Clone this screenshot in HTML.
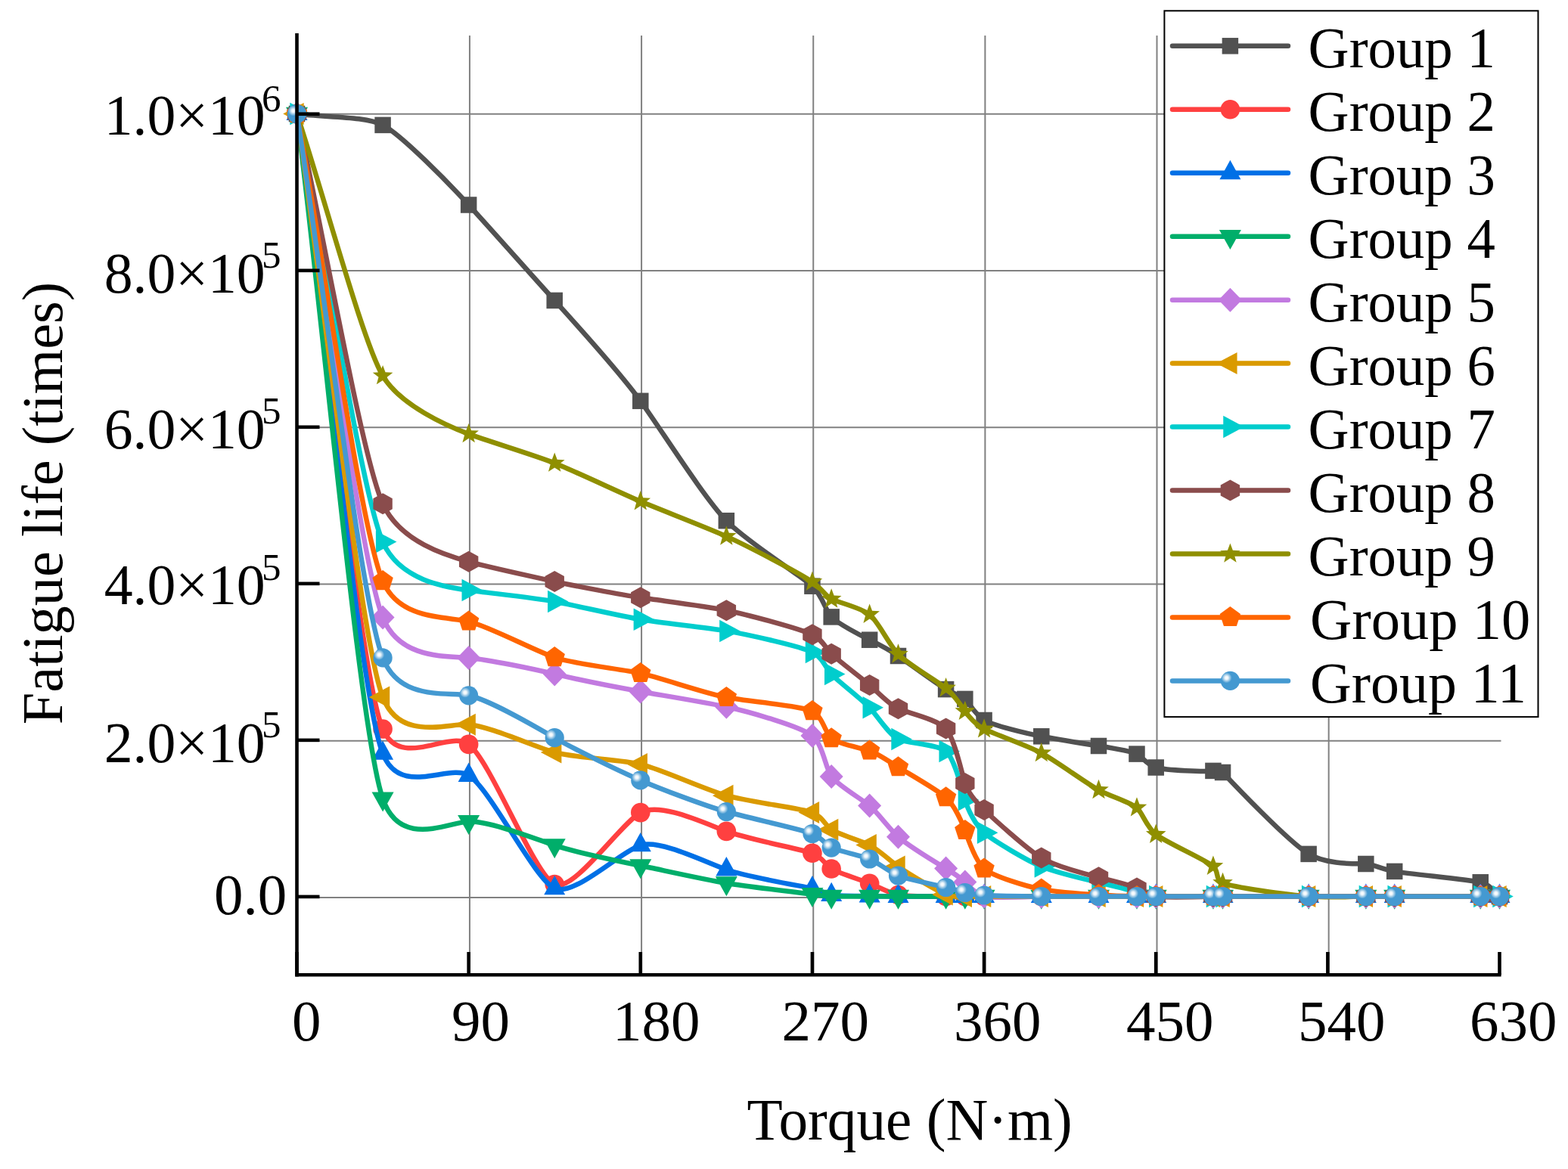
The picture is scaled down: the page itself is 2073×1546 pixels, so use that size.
<!DOCTYPE html>
<html><head><meta charset="utf-8"><title>Fatigue life vs Torque</title><style>html,body{margin:0;padding:0;background:#fff;overflow:hidden}svg{display:block}</style></head><body>
<svg xmlns="http://www.w3.org/2000/svg" width="2073" height="1546" viewBox="0 0 2073 1546">
<defs><radialGradient id="hl"><stop offset="0" stop-color="#fff" stop-opacity="1"/><stop offset="0.3" stop-color="#fff" stop-opacity="0.9"/><stop offset="1" stop-color="#fff" stop-opacity="0"/></radialGradient></defs>
<rect width="2073" height="1546" fill="#fff"/>
<g stroke="#808080" stroke-width="2"><line x1="392.5" y1="1187" x2="1984.5" y2="1187"/><line x1="392.5" y1="979.74" x2="1984.5" y2="979.74"/><line x1="392.5" y1="772.48" x2="1984.5" y2="772.48"/><line x1="392.5" y1="565.22" x2="1984.5" y2="565.22"/><line x1="392.5" y1="357.96" x2="1984.5" y2="357.96"/><line x1="392.5" y1="150.7" x2="1984.5" y2="150.7"/><line x1="620.94" y1="47" x2="620.94" y2="1289"/><line x1="848.09" y1="47" x2="848.09" y2="1289"/><line x1="1075.23" y1="47" x2="1075.23" y2="1289"/><line x1="1302.37" y1="47" x2="1302.37" y2="1289"/><line x1="1529.51" y1="47" x2="1529.51" y2="1289"/><line x1="1756.66" y1="47" x2="1756.66" y2="1289"/></g>
<path d="M392.5,150.5 C430.36,155.47 482.63,153.29 506.07,165.4 C530.51,178.02 592.79,241.73 619.64,271 C646.85,300.66 706.7,368.24 733.21,397.4 C759.83,426.68 821.25,495.17 846.79,530.3 C872.71,565.99 930.82,658.53 960.36,688.7 C988.57,717.54 1058.66,760.93 1073.93,775.2 C1087.11,787.5 1091.52,807.68 1099.17,815.9 C1107.03,824.37 1138.86,840.89 1149.64,846.2 C1159.96,851.3 1176.23,859.76 1187.5,867.5 C1199.73,875.91 1239.2,904.94 1250.6,911.6 C1260.46,917.4 1271.49,920.23 1275.83,924.4 C1280.33,928.74 1290.29,946.25 1301.07,952.5 C1313.03,959.47 1357.81,970.15 1376.79,973.8 C1395.69,977.43 1436.76,984.08 1452.5,986.5 C1467.36,988.79 1495.72,993.4 1502.98,997.1 C1509.77,1000.54 1516.6,1011.69 1528.21,1015 C1541.45,1018.82 1594.52,1021.24 1603.93,1019.4 C1611.4,1018.18 1607.7,1012.32 1616.55,1021.5 C1628.42,1034.27 1702.8,1112.88 1730.12,1129.4 C1754.65,1144.26 1795.28,1141.9 1805.83,1142.5 C1815.53,1143.12 1826.88,1149.37 1843.69,1152.4 C1863.31,1155.97 1941.13,1163.02 1957.26,1166.8 C1970.77,1169.97 1974.09,1179.27 1982.5,1185.5" fill="none" stroke="#515151" stroke-width="6.5" stroke-linejoin="round"/>
<g><rect x="381.75" y="139.75" width="21.5" height="21.5" fill="#515151"/><rect x="495.32" y="154.65" width="21.5" height="21.5" fill="#515151"/><rect x="608.89" y="260.25" width="21.5" height="21.5" fill="#515151"/><rect x="722.46" y="386.65" width="21.5" height="21.5" fill="#515151"/><rect x="836.04" y="519.55" width="21.5" height="21.5" fill="#515151"/><rect x="949.61" y="677.95" width="21.5" height="21.5" fill="#515151"/><rect x="1063.18" y="764.45" width="21.5" height="21.5" fill="#515151"/><rect x="1088.42" y="805.15" width="21.5" height="21.5" fill="#515151"/><rect x="1138.89" y="835.45" width="21.5" height="21.5" fill="#515151"/><rect x="1176.75" y="856.75" width="21.5" height="21.5" fill="#515151"/><rect x="1239.85" y="900.85" width="21.5" height="21.5" fill="#515151"/><rect x="1265.08" y="913.65" width="21.5" height="21.5" fill="#515151"/><rect x="1290.32" y="941.75" width="21.5" height="21.5" fill="#515151"/><rect x="1366.04" y="963.05" width="21.5" height="21.5" fill="#515151"/><rect x="1441.75" y="975.75" width="21.5" height="21.5" fill="#515151"/><rect x="1492.23" y="986.35" width="21.5" height="21.5" fill="#515151"/><rect x="1517.46" y="1004.25" width="21.5" height="21.5" fill="#515151"/><rect x="1593.18" y="1008.65" width="21.5" height="21.5" fill="#515151"/><rect x="1605.8" y="1010.75" width="21.5" height="21.5" fill="#515151"/><rect x="1719.37" y="1118.65" width="21.5" height="21.5" fill="#515151"/><rect x="1795.08" y="1131.75" width="21.5" height="21.5" fill="#515151"/><rect x="1832.94" y="1141.65" width="21.5" height="21.5" fill="#515151"/><rect x="1946.51" y="1156.05" width="21.5" height="21.5" fill="#515151"/><rect x="1971.75" y="1174.75" width="21.5" height="21.5" fill="#515151"/></g>
<path d="M392.5,150.5 C430.36,421.67 476.01,896.36 506.07,964 C528.83,1018.7 593.23,964.75 619.64,984.4 C648.59,1005.78 706.57,1157.49 733.21,1169.5 C758.45,1180.84 820.1,1089.57 846.79,1074.6 C872.57,1060.22 931.61,1088.84 960.36,1099.4 C989.14,1109.98 1058.74,1122.86 1073.93,1128.3 C1086.74,1132.89 1091.72,1144.33 1099.17,1149 C1107.13,1154.02 1138.95,1163.94 1149.64,1168.2 C1159.92,1172.29 1176.03,1181.44 1187.5,1183.5 C1199.71,1185.69 1239.28,1185.58 1250.6,1185.5 C1260.51,1185.44 1271.33,1185.47 1275.83,1185.5 C1280.33,1185.53 1290.7,1185.51 1301.07,1185.5 C1313.16,1185.49 1357.87,1185.5 1376.79,1185.5 C1395.7,1185.5 1436.78,1185.5 1452.5,1185.5 C1467.32,1185.5 1495.63,1185.5 1502.98,1185.5 C1509.7,1185.5 1516.86,1185.5 1528.21,1185.5 C1541.53,1185.5 1594.77,1185.5 1603.93,1185.5 C1611.22,1185.5 1607.16,1185.5 1616.55,1185.5 C1628.79,1185.5 1703.3,1185.5 1730.12,1185.5 C1755.34,1185.5 1795.44,1185.5 1805.83,1185.5 C1815.37,1185.5 1826.88,1185.5 1843.69,1185.5 C1863.39,1185.5 1941.23,1185.5 1957.26,1185.5 C1970.33,1185.5 1974.09,1185.5 1982.5,1185.5" fill="none" stroke="#FF4040" stroke-width="6.5" stroke-linejoin="round"/>
<g><circle cx="392.5" cy="150.5" r="12.8" fill="#FF4040"/><circle cx="506.07" cy="964" r="12.8" fill="#FF4040"/><circle cx="619.64" cy="984.4" r="12.8" fill="#FF4040"/><circle cx="733.21" cy="1169.5" r="12.8" fill="#FF4040"/><circle cx="846.79" cy="1074.6" r="12.8" fill="#FF4040"/><circle cx="960.36" cy="1099.4" r="12.8" fill="#FF4040"/><circle cx="1073.93" cy="1128.3" r="12.8" fill="#FF4040"/><circle cx="1099.17" cy="1149" r="12.8" fill="#FF4040"/><circle cx="1149.64" cy="1168.2" r="12.8" fill="#FF4040"/><circle cx="1187.5" cy="1183.5" r="12.8" fill="#FF4040"/><circle cx="1250.6" cy="1185.5" r="12.8" fill="#FF4040"/><circle cx="1275.83" cy="1185.5" r="12.8" fill="#FF4040"/><circle cx="1301.07" cy="1185.5" r="12.8" fill="#FF4040"/><circle cx="1376.79" cy="1185.5" r="12.8" fill="#FF4040"/><circle cx="1452.5" cy="1185.5" r="12.8" fill="#FF4040"/><circle cx="1502.98" cy="1185.5" r="12.8" fill="#FF4040"/><circle cx="1528.21" cy="1185.5" r="12.8" fill="#FF4040"/><circle cx="1603.93" cy="1185.5" r="12.8" fill="#FF4040"/><circle cx="1616.55" cy="1185.5" r="12.8" fill="#FF4040"/><circle cx="1730.12" cy="1185.5" r="12.8" fill="#FF4040"/><circle cx="1805.83" cy="1185.5" r="12.8" fill="#FF4040"/><circle cx="1843.69" cy="1185.5" r="12.8" fill="#FF4040"/><circle cx="1957.26" cy="1185.5" r="12.8" fill="#FF4040"/><circle cx="1982.5" cy="1185.5" r="12.8" fill="#FF4040"/></g>
<path d="M392.5,150.5 C430.36,432.47 476,922.78 506.07,996.4 C528.77,1055.46 593.04,1009.38 619.64,1025.5 C648.13,1042.62 706.35,1162.53 733.21,1174.9 C758.63,1186.58 820.44,1125.97 846.79,1117.9 C872.85,1109.94 931.63,1139.74 960.36,1150 C989.02,1160.23 1058.7,1171.56 1073.93,1174.9 C1086.46,1177.67 1091.79,1182.4 1099.17,1183.6 C1107.21,1184.92 1138.94,1184.96 1149.64,1185 C1159.91,1185.04 1176.12,1185.41 1187.5,1185.5 C1199.74,1185.6 1239.29,1185.52 1250.6,1185.5 C1260.5,1185.48 1271.33,1185.5 1275.83,1185.5 C1280.33,1185.5 1290.7,1185.5 1301.07,1185.5 C1313.16,1185.5 1357.87,1185.5 1376.79,1185.5 C1395.7,1185.5 1436.78,1185.5 1452.5,1185.5 C1467.32,1185.5 1495.63,1185.5 1502.98,1185.5 C1509.7,1185.5 1516.86,1185.5 1528.21,1185.5 C1541.53,1185.5 1594.77,1185.5 1603.93,1185.5 C1611.22,1185.5 1607.16,1185.5 1616.55,1185.5 C1628.79,1185.5 1703.3,1185.5 1730.12,1185.5 C1755.34,1185.5 1795.44,1185.5 1805.83,1185.5 C1815.37,1185.5 1826.88,1185.5 1843.69,1185.5 C1863.39,1185.5 1941.23,1185.5 1957.26,1185.5 C1970.33,1185.5 1974.09,1185.5 1982.5,1185.5" fill="none" stroke="#0070E6" stroke-width="6.5" stroke-linejoin="round"/>
<g><polygon points="392.5,133.57 406.5,158.97 378.5,158.97" fill="#0070E6"/><polygon points="506.07,979.47 520.07,1004.87 492.07,1004.87" fill="#0070E6"/><polygon points="619.64,1008.57 633.64,1033.97 605.64,1033.97" fill="#0070E6"/><polygon points="733.21,1157.97 747.21,1183.37 719.21,1183.37" fill="#0070E6"/><polygon points="846.79,1100.97 860.79,1126.37 832.79,1126.37" fill="#0070E6"/><polygon points="960.36,1133.07 974.36,1158.47 946.36,1158.47" fill="#0070E6"/><polygon points="1073.93,1157.97 1087.93,1183.37 1059.93,1183.37" fill="#0070E6"/><polygon points="1099.17,1166.67 1113.17,1192.07 1085.17,1192.07" fill="#0070E6"/><polygon points="1149.64,1168.07 1163.64,1193.47 1135.64,1193.47" fill="#0070E6"/><polygon points="1187.5,1168.57 1201.5,1193.97 1173.5,1193.97" fill="#0070E6"/><polygon points="1250.6,1168.57 1264.6,1193.97 1236.6,1193.97" fill="#0070E6"/><polygon points="1275.83,1168.57 1289.83,1193.97 1261.83,1193.97" fill="#0070E6"/><polygon points="1301.07,1168.57 1315.07,1193.97 1287.07,1193.97" fill="#0070E6"/><polygon points="1376.79,1168.57 1390.79,1193.97 1362.79,1193.97" fill="#0070E6"/><polygon points="1452.5,1168.57 1466.5,1193.97 1438.5,1193.97" fill="#0070E6"/><polygon points="1502.98,1168.57 1516.98,1193.97 1488.98,1193.97" fill="#0070E6"/><polygon points="1528.21,1168.57 1542.21,1193.97 1514.21,1193.97" fill="#0070E6"/><polygon points="1603.93,1168.57 1617.93,1193.97 1589.93,1193.97" fill="#0070E6"/><polygon points="1616.55,1168.57 1630.55,1193.97 1602.55,1193.97" fill="#0070E6"/><polygon points="1730.12,1168.57 1744.12,1193.97 1716.12,1193.97" fill="#0070E6"/><polygon points="1805.83,1168.57 1819.83,1193.97 1791.83,1193.97" fill="#0070E6"/><polygon points="1843.69,1168.57 1857.69,1193.97 1829.69,1193.97" fill="#0070E6"/><polygon points="1957.26,1168.57 1971.26,1193.97 1943.26,1193.97" fill="#0070E6"/><polygon points="1982.5,1168.57 1996.5,1193.97 1968.5,1193.97" fill="#0070E6"/></g>
<path d="M392.5,150.5 C430.36,452.4 476.17,971.63 506.07,1056.2 C528.46,1122.83 592.09,1087.46 619.64,1086.6 C647.2,1085.73 706.83,1108.86 733.21,1117.9 C759.56,1126.93 820.8,1139.51 846.79,1144.8 C872.75,1150.08 931.61,1163.25 960.36,1168 C989.05,1172.75 1058.69,1180.69 1073.93,1182.6 C1086.41,1184.16 1091.82,1185.27 1099.17,1185.5 C1107.22,1185.75 1138.94,1185.54 1149.64,1185.5 C1159.91,1185.46 1176.12,1185.49 1187.5,1185.5 C1199.74,1185.51 1239.29,1185.5 1250.6,1185.5 C1260.5,1185.5 1271.33,1185.5 1275.83,1185.5 C1280.33,1185.5 1290.7,1185.5 1301.07,1185.5 C1313.16,1185.5 1357.87,1185.5 1376.79,1185.5 C1395.7,1185.5 1436.78,1185.5 1452.5,1185.5 C1467.32,1185.5 1495.63,1185.5 1502.98,1185.5 C1509.7,1185.5 1516.86,1185.5 1528.21,1185.5 C1541.53,1185.5 1594.77,1185.5 1603.93,1185.5 C1611.22,1185.5 1607.16,1185.5 1616.55,1185.5 C1628.79,1185.5 1703.3,1185.5 1730.12,1185.5 C1755.34,1185.5 1795.44,1185.5 1805.83,1185.5 C1815.37,1185.5 1826.88,1185.5 1843.69,1185.5 C1863.39,1185.5 1941.23,1185.5 1957.26,1185.5 C1970.33,1185.5 1974.09,1185.5 1982.5,1185.5" fill="none" stroke="#00AE6A" stroke-width="6.5" stroke-linejoin="round"/>
<g><polygon points="392.5,167.83 407,141.83 378,141.83" fill="#00AE6A"/><polygon points="506.07,1073.53 520.57,1047.53 491.57,1047.53" fill="#00AE6A"/><polygon points="619.64,1103.93 634.14,1077.93 605.14,1077.93" fill="#00AE6A"/><polygon points="733.21,1135.23 747.71,1109.23 718.71,1109.23" fill="#00AE6A"/><polygon points="846.79,1162.13 861.29,1136.13 832.29,1136.13" fill="#00AE6A"/><polygon points="960.36,1185.33 974.86,1159.33 945.86,1159.33" fill="#00AE6A"/><polygon points="1073.93,1199.93 1088.43,1173.93 1059.43,1173.93" fill="#00AE6A"/><polygon points="1099.17,1202.83 1113.67,1176.83 1084.67,1176.83" fill="#00AE6A"/><polygon points="1149.64,1202.83 1164.14,1176.83 1135.14,1176.83" fill="#00AE6A"/><polygon points="1187.5,1202.83 1202,1176.83 1173,1176.83" fill="#00AE6A"/><polygon points="1250.6,1202.83 1265.1,1176.83 1236.1,1176.83" fill="#00AE6A"/><polygon points="1275.83,1202.83 1290.33,1176.83 1261.33,1176.83" fill="#00AE6A"/><polygon points="1301.07,1202.83 1315.57,1176.83 1286.57,1176.83" fill="#00AE6A"/><polygon points="1376.79,1202.83 1391.29,1176.83 1362.29,1176.83" fill="#00AE6A"/><polygon points="1452.5,1202.83 1467,1176.83 1438,1176.83" fill="#00AE6A"/><polygon points="1502.98,1202.83 1517.48,1176.83 1488.48,1176.83" fill="#00AE6A"/><polygon points="1528.21,1202.83 1542.71,1176.83 1513.71,1176.83" fill="#00AE6A"/><polygon points="1603.93,1202.83 1618.43,1176.83 1589.43,1176.83" fill="#00AE6A"/><polygon points="1616.55,1202.83 1631.05,1176.83 1602.05,1176.83" fill="#00AE6A"/><polygon points="1730.12,1202.83 1744.62,1176.83 1715.62,1176.83" fill="#00AE6A"/><polygon points="1805.83,1202.83 1820.33,1176.83 1791.33,1176.83" fill="#00AE6A"/><polygon points="1843.69,1202.83 1858.19,1176.83 1829.19,1176.83" fill="#00AE6A"/><polygon points="1957.26,1202.83 1971.76,1176.83 1942.76,1176.83" fill="#00AE6A"/><polygon points="1982.5,1202.83 1997,1176.83 1968,1176.83" fill="#00AE6A"/></g>
<path d="M392.5,150.5 C430.36,372.5 477.6,746.97 506.07,816.5 C528.57,873.01 591.97,867.31 619.64,869.9 C646.99,872.49 706.81,885.16 733.21,891.4 C759.63,897.64 820.79,909.86 846.79,914.5 C872.77,919.14 931.73,928.67 960.36,934.8 C989.14,940.97 1058.73,960.73 1073.93,973.1 C1087.74,984.26 1091.49,1015.86 1099.17,1026.9 C1106.92,1038.05 1138.98,1056.74 1149.64,1065.6 C1160.11,1074.3 1175.92,1096.53 1187.5,1106.7 C1199.59,1117.33 1239.23,1141.73 1250.6,1148.6 C1260.58,1154.67 1271.43,1162.15 1275.83,1166.5 C1280.25,1170.87 1290.43,1183.02 1301.07,1185.5 C1313.11,1188.33 1357.85,1186.09 1376.79,1185.5 C1395.72,1184.91 1436.78,1185.35 1452.5,1185.5 C1467.32,1185.64 1495.63,1185.54 1502.98,1185.5 C1509.7,1185.47 1516.86,1185.49 1528.21,1185.5 C1541.53,1185.51 1594.77,1185.5 1603.93,1185.5 C1611.22,1185.5 1607.16,1185.5 1616.55,1185.5 C1628.79,1185.5 1703.3,1185.5 1730.12,1185.5 C1755.34,1185.5 1795.44,1185.5 1805.83,1185.5 C1815.37,1185.5 1826.88,1185.5 1843.69,1185.5 C1863.39,1185.5 1941.23,1185.5 1957.26,1185.5 C1970.33,1185.5 1974.09,1185.5 1982.5,1185.5" fill="none" stroke="#C27AE0" stroke-width="6.5" stroke-linejoin="round"/>
<g><polygon points="392.5,134.5 408,150.5 392.5,166.5 377,150.5" fill="#C27AE0"/><polygon points="506.07,800.5 521.57,816.5 506.07,832.5 490.57,816.5" fill="#C27AE0"/><polygon points="619.64,853.9 635.14,869.9 619.64,885.9 604.14,869.9" fill="#C27AE0"/><polygon points="733.21,875.4 748.71,891.4 733.21,907.4 717.71,891.4" fill="#C27AE0"/><polygon points="846.79,898.5 862.29,914.5 846.79,930.5 831.29,914.5" fill="#C27AE0"/><polygon points="960.36,918.8 975.86,934.8 960.36,950.8 944.86,934.8" fill="#C27AE0"/><polygon points="1073.93,957.1 1089.43,973.1 1073.93,989.1 1058.43,973.1" fill="#C27AE0"/><polygon points="1099.17,1010.9 1114.67,1026.9 1099.17,1042.9 1083.67,1026.9" fill="#C27AE0"/><polygon points="1149.64,1049.6 1165.14,1065.6 1149.64,1081.6 1134.14,1065.6" fill="#C27AE0"/><polygon points="1187.5,1090.7 1203,1106.7 1187.5,1122.7 1172,1106.7" fill="#C27AE0"/><polygon points="1250.6,1132.6 1266.1,1148.6 1250.6,1164.6 1235.1,1148.6" fill="#C27AE0"/><polygon points="1275.83,1150.5 1291.33,1166.5 1275.83,1182.5 1260.33,1166.5" fill="#C27AE0"/><polygon points="1301.07,1169.5 1316.57,1185.5 1301.07,1201.5 1285.57,1185.5" fill="#C27AE0"/><polygon points="1376.79,1169.5 1392.29,1185.5 1376.79,1201.5 1361.29,1185.5" fill="#C27AE0"/><polygon points="1452.5,1169.5 1468,1185.5 1452.5,1201.5 1437,1185.5" fill="#C27AE0"/><polygon points="1502.98,1169.5 1518.48,1185.5 1502.98,1201.5 1487.48,1185.5" fill="#C27AE0"/><polygon points="1528.21,1169.5 1543.71,1185.5 1528.21,1201.5 1512.71,1185.5" fill="#C27AE0"/><polygon points="1603.93,1169.5 1619.43,1185.5 1603.93,1201.5 1588.43,1185.5" fill="#C27AE0"/><polygon points="1616.55,1169.5 1632.05,1185.5 1616.55,1201.5 1601.05,1185.5" fill="#C27AE0"/><polygon points="1730.12,1169.5 1745.62,1185.5 1730.12,1201.5 1714.62,1185.5" fill="#C27AE0"/><polygon points="1805.83,1169.5 1821.33,1185.5 1805.83,1201.5 1790.33,1185.5" fill="#C27AE0"/><polygon points="1843.69,1169.5 1859.19,1185.5 1843.69,1201.5 1828.19,1185.5" fill="#C27AE0"/><polygon points="1957.26,1169.5 1972.76,1185.5 1957.26,1201.5 1941.76,1185.5" fill="#C27AE0"/><polygon points="1982.5,1169.5 1998,1185.5 1982.5,1201.5 1967,1185.5" fill="#C27AE0"/></g>
<path d="M392.5,150.5 C430.36,407.67 476.82,847.83 506.07,922 C528.53,981.37 592.13,956.15 619.64,958.2 C647.16,960.25 706.73,987.67 733.21,995 C759.54,1002.28 820.91,1004.47 846.79,1010.6 C872.86,1016.78 931.56,1044.13 960.36,1052.2 C988.97,1060.21 1058.7,1069.04 1073.93,1074.5 C1086.85,1079.1 1091.71,1092.28 1099.17,1097.3 C1107.11,1102.68 1138.98,1112.34 1149.64,1117.6 C1160.1,1122.76 1176.09,1137.68 1187.5,1146 C1199.64,1154.88 1239.22,1178.49 1250.6,1183 C1260.36,1186.9 1271.29,1185.78 1275.83,1185.5 C1280.37,1185.22 1290.71,1185.39 1301.07,1185.5 C1313.15,1185.63 1357.87,1185.54 1376.79,1185.5 C1395.71,1185.46 1436.78,1185.49 1452.5,1185.5 C1467.32,1185.51 1495.63,1185.5 1502.98,1185.5 C1509.7,1185.5 1516.86,1185.5 1528.21,1185.5 C1541.53,1185.5 1594.77,1185.5 1603.93,1185.5 C1611.22,1185.5 1607.16,1185.5 1616.55,1185.5 C1628.79,1185.5 1703.3,1185.5 1730.12,1185.5 C1755.34,1185.5 1795.44,1185.5 1805.83,1185.5 C1815.37,1185.5 1826.88,1185.5 1843.69,1185.5 C1863.39,1185.5 1941.23,1185.5 1957.26,1185.5 C1970.33,1185.5 1974.09,1185.5 1982.5,1185.5" fill="none" stroke="#DA9A00" stroke-width="6.5" stroke-linejoin="round"/>
<g><polygon points="374.17,150.5 401.67,136 401.67,165" fill="#DA9A00"/><polygon points="487.74,922 515.24,907.5 515.24,936.5" fill="#DA9A00"/><polygon points="601.31,958.2 628.81,943.7 628.81,972.7" fill="#DA9A00"/><polygon points="714.88,995 742.38,980.5 742.38,1009.5" fill="#DA9A00"/><polygon points="828.45,1010.6 855.95,996.1 855.95,1025.1" fill="#DA9A00"/><polygon points="942.02,1052.2 969.52,1037.7 969.52,1066.7" fill="#DA9A00"/><polygon points="1055.6,1074.5 1083.1,1060 1083.1,1089" fill="#DA9A00"/><polygon points="1080.83,1097.3 1108.33,1082.8 1108.33,1111.8" fill="#DA9A00"/><polygon points="1131.31,1117.6 1158.81,1103.1 1158.81,1132.1" fill="#DA9A00"/><polygon points="1169.17,1146 1196.67,1131.5 1196.67,1160.5" fill="#DA9A00"/><polygon points="1232.26,1183 1259.76,1168.5 1259.76,1197.5" fill="#DA9A00"/><polygon points="1257.5,1185.5 1285,1171 1285,1200" fill="#DA9A00"/><polygon points="1282.74,1185.5 1310.24,1171 1310.24,1200" fill="#DA9A00"/><polygon points="1358.45,1185.5 1385.95,1171 1385.95,1200" fill="#DA9A00"/><polygon points="1434.17,1185.5 1461.67,1171 1461.67,1200" fill="#DA9A00"/><polygon points="1484.64,1185.5 1512.14,1171 1512.14,1200" fill="#DA9A00"/><polygon points="1509.88,1185.5 1537.38,1171 1537.38,1200" fill="#DA9A00"/><polygon points="1585.6,1185.5 1613.1,1171 1613.1,1200" fill="#DA9A00"/><polygon points="1598.21,1185.5 1625.71,1171 1625.71,1200" fill="#DA9A00"/><polygon points="1711.79,1185.5 1739.29,1171 1739.29,1200" fill="#DA9A00"/><polygon points="1787.5,1185.5 1815,1171 1815,1200" fill="#DA9A00"/><polygon points="1825.36,1185.5 1852.86,1171 1852.86,1200" fill="#DA9A00"/><polygon points="1938.93,1185.5 1966.43,1171 1966.43,1200" fill="#DA9A00"/><polygon points="1964.17,1185.5 1991.67,1171 1991.67,1200" fill="#DA9A00"/></g>
<path d="M392.5,150.5 C430.36,339.2 478.3,653.52 506.07,716.6 C528.64,768.84 591.9,776.81 619.64,780.6 C646.87,784.36 706.79,790.55 733.21,795.6 C759.68,800.66 820.8,814.81 846.79,819.2 C872.73,823.58 931.69,829.71 960.36,834.4 C989.11,839.11 1058.68,855.08 1073.93,862.5 C1087.06,868.82 1091.84,883.6 1099.17,891.6 C1107.06,900.25 1139.07,924.48 1149.64,935.8 C1159.95,946.82 1175.62,972 1187.5,977.5 C1199.62,983.11 1239.4,984.29 1250.6,993.4 C1261.89,1002.59 1271.79,1043.84 1275.83,1057.8 C1279.73,1071.12 1289.93,1091.68 1301.07,1101.3 C1313.14,1111.71 1357.73,1138.07 1376.79,1146 C1395.53,1153.8 1436.73,1163.34 1452.5,1167 C1467.36,1170.46 1495.65,1177.68 1502.98,1180 C1509.67,1182.1 1516.81,1184.95 1528.21,1185.5 C1541.54,1186.14 1594.77,1185.6 1603.93,1185.5 C1611.22,1185.43 1607.16,1185.48 1616.55,1185.5 C1628.79,1185.54 1703.3,1185.51 1730.12,1185.5 C1755.34,1185.49 1795.44,1185.5 1805.83,1185.5 C1815.37,1185.5 1826.88,1185.5 1843.69,1185.5 C1863.39,1185.5 1941.23,1185.5 1957.26,1185.5 C1970.33,1185.5 1974.09,1185.5 1982.5,1185.5" fill="none" stroke="#00CDCD" stroke-width="6.5" stroke-linejoin="round"/>
<g><polygon points="410.83,150.5 383.33,135.75 383.33,165.25" fill="#00CDCD"/><polygon points="524.4,716.6 496.9,701.85 496.9,731.35" fill="#00CDCD"/><polygon points="637.98,780.6 610.48,765.85 610.48,795.35" fill="#00CDCD"/><polygon points="751.55,795.6 724.05,780.85 724.05,810.35" fill="#00CDCD"/><polygon points="865.12,819.2 837.62,804.45 837.62,833.95" fill="#00CDCD"/><polygon points="978.69,834.4 951.19,819.65 951.19,849.15" fill="#00CDCD"/><polygon points="1092.26,862.5 1064.76,847.75 1064.76,877.25" fill="#00CDCD"/><polygon points="1117.5,891.6 1090,876.85 1090,906.35" fill="#00CDCD"/><polygon points="1167.98,935.8 1140.48,921.05 1140.48,950.55" fill="#00CDCD"/><polygon points="1205.83,977.5 1178.33,962.75 1178.33,992.25" fill="#00CDCD"/><polygon points="1268.93,993.4 1241.43,978.65 1241.43,1008.15" fill="#00CDCD"/><polygon points="1294.17,1057.8 1266.67,1043.05 1266.67,1072.55" fill="#00CDCD"/><polygon points="1319.4,1101.3 1291.9,1086.55 1291.9,1116.05" fill="#00CDCD"/><polygon points="1395.12,1146 1367.62,1131.25 1367.62,1160.75" fill="#00CDCD"/><polygon points="1470.83,1167 1443.33,1152.25 1443.33,1181.75" fill="#00CDCD"/><polygon points="1521.31,1180 1493.81,1165.25 1493.81,1194.75" fill="#00CDCD"/><polygon points="1546.55,1185.5 1519.05,1170.75 1519.05,1200.25" fill="#00CDCD"/><polygon points="1622.26,1185.5 1594.76,1170.75 1594.76,1200.25" fill="#00CDCD"/><polygon points="1634.88,1185.5 1607.38,1170.75 1607.38,1200.25" fill="#00CDCD"/><polygon points="1748.45,1185.5 1720.95,1170.75 1720.95,1200.25" fill="#00CDCD"/><polygon points="1824.17,1185.5 1796.67,1170.75 1796.67,1200.25" fill="#00CDCD"/><polygon points="1862.02,1185.5 1834.52,1170.75 1834.52,1200.25" fill="#00CDCD"/><polygon points="1975.6,1185.5 1948.1,1170.75 1948.1,1200.25" fill="#00CDCD"/><polygon points="2000.83,1185.5 1973.33,1170.75 1973.33,1200.25" fill="#00CDCD"/></g>
<path d="M392.5,150.5 C430.36,322.4 478.77,605.85 506.07,666.2 C528.71,716.94 591.87,735.26 619.64,742.8 C646.77,750.21 706.73,763.14 733.21,769 C759.67,774.85 820.8,786.34 846.79,790.3 C872.75,794.26 931.72,801.48 960.36,807.2 C989.11,812.94 1058.68,831.93 1073.93,839.2 C1086.93,845.34 1091.86,857.47 1099.17,864.8 C1107.08,872.78 1138.98,896.52 1149.64,905.9 C1159.88,914.9 1175.84,932.06 1187.5,937.3 C1199.73,942.77 1239.48,951.42 1250.6,963.6 C1261.9,975.98 1271.6,1023 1275.83,1036.1 C1279.79,1048.16 1290.29,1060.79 1301.07,1071 C1313.19,1082.46 1357.63,1122.97 1376.79,1134.5 C1395.36,1145.68 1436.66,1156.54 1452.5,1160.3 C1467.4,1163.86 1495.69,1171.14 1502.98,1174.5 C1509.69,1177.55 1516.72,1184.18 1528.21,1185.5 C1541.53,1187.03 1594.77,1185.77 1603.93,1185.5 C1611.22,1185.31 1607.16,1185.44 1616.55,1185.5 C1628.79,1185.59 1703.3,1185.52 1730.12,1185.5 C1755.34,1185.48 1795.44,1185.49 1805.83,1185.5 C1815.37,1185.5 1826.88,1185.5 1843.69,1185.5 C1863.39,1185.5 1941.23,1185.5 1957.26,1185.5 C1970.33,1185.5 1974.09,1185.5 1982.5,1185.5" fill="none" stroke="#8A4C4C" stroke-width="6.5" stroke-linejoin="round"/>
<g><polygon points="392.5,136.5 405.2,143.5 405.2,157.5 392.5,164.5 379.8,157.5 379.8,143.5" fill="#8A4C4C"/><polygon points="506.07,652.2 518.77,659.2 518.77,673.2 506.07,680.2 493.37,673.2 493.37,659.2" fill="#8A4C4C"/><polygon points="619.64,728.8 632.34,735.8 632.34,749.8 619.64,756.8 606.94,749.8 606.94,735.8" fill="#8A4C4C"/><polygon points="733.21,755 745.91,762 745.91,776 733.21,783 720.51,776 720.51,762" fill="#8A4C4C"/><polygon points="846.79,776.3 859.49,783.3 859.49,797.3 846.79,804.3 834.09,797.3 834.09,783.3" fill="#8A4C4C"/><polygon points="960.36,793.2 973.06,800.2 973.06,814.2 960.36,821.2 947.66,814.2 947.66,800.2" fill="#8A4C4C"/><polygon points="1073.93,825.2 1086.63,832.2 1086.63,846.2 1073.93,853.2 1061.23,846.2 1061.23,832.2" fill="#8A4C4C"/><polygon points="1099.17,850.8 1111.87,857.8 1111.87,871.8 1099.17,878.8 1086.47,871.8 1086.47,857.8" fill="#8A4C4C"/><polygon points="1149.64,891.9 1162.34,898.9 1162.34,912.9 1149.64,919.9 1136.94,912.9 1136.94,898.9" fill="#8A4C4C"/><polygon points="1187.5,923.3 1200.2,930.3 1200.2,944.3 1187.5,951.3 1174.8,944.3 1174.8,930.3" fill="#8A4C4C"/><polygon points="1250.6,949.6 1263.3,956.6 1263.3,970.6 1250.6,977.6 1237.9,970.6 1237.9,956.6" fill="#8A4C4C"/><polygon points="1275.83,1022.1 1288.53,1029.1 1288.53,1043.1 1275.83,1050.1 1263.13,1043.1 1263.13,1029.1" fill="#8A4C4C"/><polygon points="1301.07,1057 1313.77,1064 1313.77,1078 1301.07,1085 1288.37,1078 1288.37,1064" fill="#8A4C4C"/><polygon points="1376.79,1120.5 1389.49,1127.5 1389.49,1141.5 1376.79,1148.5 1364.09,1141.5 1364.09,1127.5" fill="#8A4C4C"/><polygon points="1452.5,1146.3 1465.2,1153.3 1465.2,1167.3 1452.5,1174.3 1439.8,1167.3 1439.8,1153.3" fill="#8A4C4C"/><polygon points="1502.98,1160.5 1515.68,1167.5 1515.68,1181.5 1502.98,1188.5 1490.28,1181.5 1490.28,1167.5" fill="#8A4C4C"/><polygon points="1528.21,1171.5 1540.91,1178.5 1540.91,1192.5 1528.21,1199.5 1515.51,1192.5 1515.51,1178.5" fill="#8A4C4C"/><polygon points="1603.93,1171.5 1616.63,1178.5 1616.63,1192.5 1603.93,1199.5 1591.23,1192.5 1591.23,1178.5" fill="#8A4C4C"/><polygon points="1616.55,1171.5 1629.25,1178.5 1629.25,1192.5 1616.55,1199.5 1603.85,1192.5 1603.85,1178.5" fill="#8A4C4C"/><polygon points="1730.12,1171.5 1742.82,1178.5 1742.82,1192.5 1730.12,1199.5 1717.42,1192.5 1717.42,1178.5" fill="#8A4C4C"/><polygon points="1805.83,1171.5 1818.53,1178.5 1818.53,1192.5 1805.83,1199.5 1793.13,1192.5 1793.13,1178.5" fill="#8A4C4C"/><polygon points="1843.69,1171.5 1856.39,1178.5 1856.39,1192.5 1843.69,1199.5 1830.99,1192.5 1830.99,1178.5" fill="#8A4C4C"/><polygon points="1957.26,1171.5 1969.96,1178.5 1969.96,1192.5 1957.26,1199.5 1944.56,1192.5 1944.56,1178.5" fill="#8A4C4C"/><polygon points="1982.5,1171.5 1995.2,1178.5 1995.2,1192.5 1982.5,1199.5 1969.8,1192.5 1969.8,1178.5" fill="#8A4C4C"/></g>
<path d="M392.5,150.5 C430.36,266 479.86,452.65 506.07,497 C528.98,535.98 591.97,563.65 619.64,573.9 C646.78,583.98 706.81,601.94 733.21,612.5 C759.75,623.12 820.8,651.99 846.79,663.1 C872.72,674.19 931.73,696.52 960.36,709.4 C989.19,722.37 1058.79,759 1073.93,769.6 C1086.61,778.37 1091.61,788.59 1099.17,792.3 C1107.22,796.24 1139.17,804.09 1149.64,812.6 C1160.38,821.33 1175.81,853.15 1187.5,865.3 C1199.49,877.77 1239.27,901.23 1250.6,910.1 C1260.87,918.18 1271.47,934.38 1275.83,940.7 C1280.12,946.9 1290.35,958.73 1301.07,964.2 C1313.18,970.35 1358.02,985.85 1376.79,995.9 C1395.82,1006.09 1436.67,1036.27 1452.5,1044.8 C1467.26,1052.77 1495.79,1061.78 1502.98,1068.2 C1509.94,1074.41 1516.24,1094.34 1528.21,1103.6 C1541.46,1113.85 1594.78,1137.68 1603.93,1145.6 C1611.73,1152.26 1606.21,1163.29 1616.55,1167.7 C1629.04,1173.2 1703.35,1183.69 1730.12,1185.5 C1755.25,1187.21 1795.42,1185.78 1805.83,1185.5 C1815.39,1185.25 1826.88,1185.43 1843.69,1185.5 C1863.39,1185.59 1941.22,1185.52 1957.26,1185.5 C1970.34,1185.49 1974.09,1185.5 1982.5,1185.5" fill="none" stroke="#8F8F00" stroke-width="6.5" stroke-linejoin="round"/>
<g><polygon points="392.5,136.5 395.96,145.74 405.81,146.17 398.09,152.32 400.73,161.83 392.5,156.38 384.27,161.83 386.91,152.32 379.19,146.17 389.04,145.74" fill="#8F8F00"/><polygon points="506.07,483 509.53,492.24 519.39,492.67 511.66,498.82 514.3,508.33 506.07,502.88 497.84,508.33 500.48,498.82 492.76,492.67 502.62,492.24" fill="#8F8F00"/><polygon points="619.64,559.9 623.1,569.14 632.96,569.57 625.24,575.72 627.87,585.23 619.64,579.78 611.41,585.23 614.05,575.72 606.33,569.57 616.19,569.14" fill="#8F8F00"/><polygon points="733.21,598.5 736.67,607.74 746.53,608.17 738.81,614.32 741.44,623.83 733.21,618.38 724.99,623.83 727.62,614.32 719.9,608.17 729.76,607.74" fill="#8F8F00"/><polygon points="846.79,649.1 850.24,658.34 860.1,658.77 852.38,664.92 855.01,674.43 846.79,668.98 838.56,674.43 841.19,664.92 833.47,658.77 843.33,658.34" fill="#8F8F00"/><polygon points="960.36,695.4 963.81,704.64 973.67,705.07 965.95,711.22 968.59,720.73 960.36,715.28 952.13,720.73 954.76,711.22 947.04,705.07 956.9,704.64" fill="#8F8F00"/><polygon points="1073.93,755.6 1077.38,764.84 1087.24,765.27 1079.52,771.42 1082.16,780.93 1073.93,775.48 1065.7,780.93 1068.34,771.42 1060.61,765.27 1070.47,764.84" fill="#8F8F00"/><polygon points="1099.17,778.3 1102.62,787.54 1112.48,787.97 1104.76,794.12 1107.4,803.63 1099.17,798.18 1090.94,803.63 1093.57,794.12 1085.85,787.97 1095.71,787.54" fill="#8F8F00"/><polygon points="1149.64,798.6 1153.1,807.84 1162.96,808.27 1155.24,814.42 1157.87,823.93 1149.64,818.48 1141.41,823.93 1144.05,814.42 1136.33,808.27 1146.19,807.84" fill="#8F8F00"/><polygon points="1187.5,851.3 1190.96,860.54 1200.81,860.97 1193.09,867.12 1195.73,876.63 1187.5,871.18 1179.27,876.63 1181.91,867.12 1174.19,860.97 1184.04,860.54" fill="#8F8F00"/><polygon points="1250.6,896.1 1254.05,905.34 1263.91,905.77 1256.19,911.92 1258.82,921.43 1250.6,915.98 1242.37,921.43 1245,911.92 1237.28,905.77 1247.14,905.34" fill="#8F8F00"/><polygon points="1275.83,926.7 1279.29,935.94 1289.15,936.37 1281.43,942.52 1284.06,952.03 1275.83,946.58 1267.6,952.03 1270.24,942.52 1262.52,936.37 1272.38,935.94" fill="#8F8F00"/><polygon points="1301.07,950.2 1304.53,959.44 1314.39,959.87 1306.66,966.02 1309.3,975.53 1301.07,970.08 1292.84,975.53 1295.48,966.02 1287.76,959.87 1297.62,959.44" fill="#8F8F00"/><polygon points="1376.79,981.9 1380.24,991.14 1390.1,991.57 1382.38,997.72 1385.01,1007.23 1376.79,1001.78 1368.56,1007.23 1371.19,997.72 1363.47,991.57 1373.33,991.14" fill="#8F8F00"/><polygon points="1452.5,1030.8 1455.96,1040.04 1465.81,1040.47 1458.09,1046.62 1460.73,1056.13 1452.5,1050.68 1444.27,1056.13 1446.91,1046.62 1439.19,1040.47 1449.04,1040.04" fill="#8F8F00"/><polygon points="1502.98,1054.2 1506.43,1063.44 1516.29,1063.87 1508.57,1070.02 1511.21,1079.53 1502.98,1074.08 1494.75,1079.53 1497.38,1070.02 1489.66,1063.87 1499.52,1063.44" fill="#8F8F00"/><polygon points="1528.21,1089.6 1531.67,1098.84 1541.53,1099.27 1533.81,1105.42 1536.44,1114.93 1528.21,1109.48 1519.99,1114.93 1522.62,1105.42 1514.9,1099.27 1524.76,1098.84" fill="#8F8F00"/><polygon points="1603.93,1131.6 1607.38,1140.84 1617.24,1141.27 1609.52,1147.42 1612.16,1156.93 1603.93,1151.48 1595.7,1156.93 1598.34,1147.42 1590.61,1141.27 1600.47,1140.84" fill="#8F8F00"/><polygon points="1616.55,1153.7 1620,1162.94 1629.86,1163.37 1622.14,1169.52 1624.78,1179.03 1616.55,1173.58 1608.32,1179.03 1610.96,1169.52 1603.23,1163.37 1613.09,1162.94" fill="#8F8F00"/><polygon points="1730.12,1171.5 1733.58,1180.74 1743.43,1181.17 1735.71,1187.32 1738.35,1196.83 1730.12,1191.38 1721.89,1196.83 1724.53,1187.32 1716.8,1181.17 1726.66,1180.74" fill="#8F8F00"/><polygon points="1805.83,1171.5 1809.29,1180.74 1819.15,1181.17 1811.43,1187.32 1814.06,1196.83 1805.83,1191.38 1797.6,1196.83 1800.24,1187.32 1792.52,1181.17 1802.38,1180.74" fill="#8F8F00"/><polygon points="1843.69,1171.5 1847.15,1180.74 1857.01,1181.17 1849.28,1187.32 1851.92,1196.83 1843.69,1191.38 1835.46,1196.83 1838.1,1187.32 1830.38,1181.17 1840.23,1180.74" fill="#8F8F00"/><polygon points="1957.26,1171.5 1960.72,1180.74 1970.58,1181.17 1962.85,1187.32 1965.49,1196.83 1957.26,1191.38 1949.03,1196.83 1951.67,1187.32 1943.95,1181.17 1953.81,1180.74" fill="#8F8F00"/><polygon points="1982.5,1171.5 1985.96,1180.74 1995.81,1181.17 1988.09,1187.32 1990.73,1196.83 1982.5,1191.38 1974.27,1196.83 1976.91,1187.32 1969.19,1181.17 1979.04,1180.74" fill="#8F8F00"/></g>
<path d="M392.5,150.5 C430.36,356.5 477.79,704.34 506.07,768.5 C528.65,821.15 592.14,815.13 619.64,821.9 C647.07,828.66 706.68,860.49 733.21,869.5 C759.5,878.42 820.84,884.68 846.79,890.4 C872.81,896.13 931.58,916.76 960.36,922.3 C989.03,927.82 1058.74,933.09 1073.93,940.5 C1087.27,946.94 1091.52,970.16 1099.17,976.7 C1107,983.42 1138.9,989.32 1149.64,992.9 C1160.09,996.4 1176.19,1007.56 1187.5,1014.6 C1199.71,1022.2 1239.31,1044.6 1250.6,1054.7 C1261.25,1064.24 1271.8,1087 1275.83,1098.4 C1279.92,1109.99 1289.69,1139.46 1301.07,1148.9 C1313.03,1158.84 1357.77,1172.41 1376.79,1175.9 C1395.65,1179.37 1436.76,1182.57 1452.5,1183.5 C1467.33,1184.38 1495.63,1185.32 1502.98,1185.5 C1509.7,1185.66 1516.86,1185.53 1528.21,1185.5 C1541.53,1185.46 1594.77,1185.49 1603.93,1185.5 C1611.22,1185.51 1607.16,1185.5 1616.55,1185.5 C1628.79,1185.5 1703.3,1185.5 1730.12,1185.5 C1755.34,1185.5 1795.44,1185.5 1805.83,1185.5 C1815.37,1185.5 1826.88,1185.5 1843.69,1185.5 C1863.39,1185.5 1941.23,1185.5 1957.26,1185.5 C1970.33,1185.5 1974.09,1185.5 1982.5,1185.5" fill="none" stroke="#FF6500" stroke-width="6.5" stroke-linejoin="round"/>
<g><polygon points="392.5,136.1 406.2,146.05 400.96,162.15 384.04,162.15 378.8,146.05" fill="#FF6500"/><polygon points="506.07,754.1 519.77,764.05 514.54,780.15 497.61,780.15 492.38,764.05" fill="#FF6500"/><polygon points="619.64,807.5 633.34,817.45 628.11,833.55 611.18,833.55 605.95,817.45" fill="#FF6500"/><polygon points="733.21,855.1 746.91,865.05 741.68,881.15 724.75,881.15 719.52,865.05" fill="#FF6500"/><polygon points="846.79,876 860.48,885.95 855.25,902.05 838.32,902.05 833.09,885.95" fill="#FF6500"/><polygon points="960.36,907.9 974.05,917.85 968.82,933.95 951.89,933.95 946.66,917.85" fill="#FF6500"/><polygon points="1073.93,926.1 1087.62,936.05 1082.39,952.15 1065.46,952.15 1060.23,936.05" fill="#FF6500"/><polygon points="1099.17,962.3 1112.86,972.25 1107.63,988.35 1090.7,988.35 1085.47,972.25" fill="#FF6500"/><polygon points="1149.64,978.5 1163.34,988.45 1158.11,1004.55 1141.18,1004.55 1135.95,988.45" fill="#FF6500"/><polygon points="1187.5,1000.2 1201.2,1010.15 1195.96,1026.25 1179.04,1026.25 1173.8,1010.15" fill="#FF6500"/><polygon points="1250.6,1040.3 1264.29,1050.25 1259.06,1066.35 1242.13,1066.35 1236.9,1050.25" fill="#FF6500"/><polygon points="1275.83,1084 1289.53,1093.95 1284.3,1110.05 1267.37,1110.05 1262.14,1093.95" fill="#FF6500"/><polygon points="1301.07,1134.5 1314.77,1144.45 1309.54,1160.55 1292.61,1160.55 1287.38,1144.45" fill="#FF6500"/><polygon points="1376.79,1161.5 1390.48,1171.45 1385.25,1187.55 1368.32,1187.55 1363.09,1171.45" fill="#FF6500"/><polygon points="1452.5,1169.1 1466.2,1179.05 1460.96,1195.15 1444.04,1195.15 1438.8,1179.05" fill="#FF6500"/><polygon points="1502.98,1171.1 1516.67,1181.05 1511.44,1197.15 1494.51,1197.15 1489.28,1181.05" fill="#FF6500"/><polygon points="1528.21,1171.1 1541.91,1181.05 1536.68,1197.15 1519.75,1197.15 1514.52,1181.05" fill="#FF6500"/><polygon points="1603.93,1171.1 1617.62,1181.05 1612.39,1197.15 1595.46,1197.15 1590.23,1181.05" fill="#FF6500"/><polygon points="1616.55,1171.1 1630.24,1181.05 1625.01,1197.15 1608.08,1197.15 1602.85,1181.05" fill="#FF6500"/><polygon points="1730.12,1171.1 1743.81,1181.05 1738.58,1197.15 1721.65,1197.15 1716.42,1181.05" fill="#FF6500"/><polygon points="1805.83,1171.1 1819.53,1181.05 1814.3,1197.15 1797.37,1197.15 1792.14,1181.05" fill="#FF6500"/><polygon points="1843.69,1171.1 1857.39,1181.05 1852.15,1197.15 1835.23,1197.15 1830,1181.05" fill="#FF6500"/><polygon points="1957.26,1171.1 1970.96,1181.05 1965.73,1197.15 1948.8,1197.15 1943.57,1181.05" fill="#FF6500"/><polygon points="1982.5,1171.1 1996.2,1181.05 1990.96,1197.15 1974.04,1197.15 1968.8,1181.05" fill="#FF6500"/></g>
<path d="M392.5,150.5 C430.36,390.3 477.22,797.62 506.07,869.9 C528.58,928.27 592.14,914.13 619.64,919.8 C647.22,925.48 706.87,960.48 733.21,975.7 C759.56,990.93 820.75,1020.7 846.79,1031.9 C872.65,1043.03 931.53,1065.38 960.36,1073.5 C989.05,1081.58 1058.72,1096.49 1073.93,1102.5 C1086.68,1107.48 1091.71,1117.52 1099.17,1121.1 C1107.16,1124.95 1138.99,1131.6 1149.64,1136 C1160.01,1140.28 1176,1153.36 1187.5,1158 C1199.66,1162.91 1239.27,1170.95 1250.6,1173.5 C1260.53,1175.75 1271.34,1179.3 1275.83,1180.5 C1280.32,1181.69 1290.69,1183.46 1301.07,1184 C1313.17,1184.63 1357.87,1185.37 1376.79,1185.5 C1395.7,1185.63 1436.78,1185.52 1452.5,1185.5 C1467.32,1185.48 1495.63,1185.5 1502.98,1185.5 C1509.7,1185.5 1516.86,1185.5 1528.21,1185.5 C1541.53,1185.5 1594.77,1185.5 1603.93,1185.5 C1611.22,1185.5 1607.16,1185.5 1616.55,1185.5 C1628.79,1185.5 1703.3,1185.5 1730.12,1185.5 C1755.34,1185.5 1795.44,1185.5 1805.83,1185.5 C1815.37,1185.5 1826.88,1185.5 1843.69,1185.5 C1863.39,1185.5 1941.23,1185.5 1957.26,1185.5 C1970.33,1185.5 1974.09,1185.5 1982.5,1185.5" fill="none" stroke="#4499D1" stroke-width="6.5" stroke-linejoin="round"/>
<g><circle cx="392.5" cy="150.5" r="12.6" fill="#4499D1"/><circle cx="387.7" cy="146.5" r="7" fill="url(#hl)"/><circle cx="506.07" cy="869.9" r="12.6" fill="#4499D1"/><circle cx="501.27" cy="865.9" r="7" fill="url(#hl)"/><circle cx="619.64" cy="919.8" r="12.6" fill="#4499D1"/><circle cx="614.84" cy="915.8" r="7" fill="url(#hl)"/><circle cx="733.21" cy="975.7" r="12.6" fill="#4499D1"/><circle cx="728.41" cy="971.7" r="7" fill="url(#hl)"/><circle cx="846.79" cy="1031.9" r="12.6" fill="#4499D1"/><circle cx="841.99" cy="1027.9" r="7" fill="url(#hl)"/><circle cx="960.36" cy="1073.5" r="12.6" fill="#4499D1"/><circle cx="955.56" cy="1069.5" r="7" fill="url(#hl)"/><circle cx="1073.93" cy="1102.5" r="12.6" fill="#4499D1"/><circle cx="1069.13" cy="1098.5" r="7" fill="url(#hl)"/><circle cx="1099.17" cy="1121.1" r="12.6" fill="#4499D1"/><circle cx="1094.37" cy="1117.1" r="7" fill="url(#hl)"/><circle cx="1149.64" cy="1136" r="12.6" fill="#4499D1"/><circle cx="1144.84" cy="1132" r="7" fill="url(#hl)"/><circle cx="1187.5" cy="1158" r="12.6" fill="#4499D1"/><circle cx="1182.7" cy="1154" r="7" fill="url(#hl)"/><circle cx="1250.6" cy="1173.5" r="12.6" fill="#4499D1"/><circle cx="1245.8" cy="1169.5" r="7" fill="url(#hl)"/><circle cx="1275.83" cy="1180.5" r="12.6" fill="#4499D1"/><circle cx="1271.03" cy="1176.5" r="7" fill="url(#hl)"/><circle cx="1301.07" cy="1184" r="12.6" fill="#4499D1"/><circle cx="1296.27" cy="1180" r="7" fill="url(#hl)"/><circle cx="1376.79" cy="1185.5" r="12.6" fill="#4499D1"/><circle cx="1371.99" cy="1181.5" r="7" fill="url(#hl)"/><circle cx="1452.5" cy="1185.5" r="12.6" fill="#4499D1"/><circle cx="1447.7" cy="1181.5" r="7" fill="url(#hl)"/><circle cx="1502.98" cy="1185.5" r="12.6" fill="#4499D1"/><circle cx="1498.18" cy="1181.5" r="7" fill="url(#hl)"/><circle cx="1528.21" cy="1185.5" r="12.6" fill="#4499D1"/><circle cx="1523.41" cy="1181.5" r="7" fill="url(#hl)"/><circle cx="1603.93" cy="1185.5" r="12.6" fill="#4499D1"/><circle cx="1599.13" cy="1181.5" r="7" fill="url(#hl)"/><circle cx="1616.55" cy="1185.5" r="12.6" fill="#4499D1"/><circle cx="1611.75" cy="1181.5" r="7" fill="url(#hl)"/><circle cx="1730.12" cy="1185.5" r="12.6" fill="#4499D1"/><circle cx="1725.32" cy="1181.5" r="7" fill="url(#hl)"/><circle cx="1805.83" cy="1185.5" r="12.6" fill="#4499D1"/><circle cx="1801.03" cy="1181.5" r="7" fill="url(#hl)"/><circle cx="1843.69" cy="1185.5" r="12.6" fill="#4499D1"/><circle cx="1838.89" cy="1181.5" r="7" fill="url(#hl)"/><circle cx="1957.26" cy="1185.5" r="12.6" fill="#4499D1"/><circle cx="1952.46" cy="1181.5" r="7" fill="url(#hl)"/><circle cx="1982.5" cy="1185.5" r="12.6" fill="#4499D1"/><circle cx="1977.7" cy="1181.5" r="7" fill="url(#hl)"/></g>
<g stroke="#000" stroke-width="4.6"><line x1="392.5" y1="44" x2="392.5" y2="1291.6"/><line x1="390.3" y1="1289.3" x2="1984.6" y2="1289.3"/><line x1="392.5" y1="1259" x2="392.5" y2="1289.3"/><line x1="619.64" y1="1259" x2="619.64" y2="1289.3"/><line x1="846.79" y1="1259" x2="846.79" y2="1289.3"/><line x1="1073.93" y1="1259" x2="1073.93" y2="1289.3"/><line x1="1301.07" y1="1259" x2="1301.07" y2="1289.3"/><line x1="1528.21" y1="1259" x2="1528.21" y2="1289.3"/><line x1="1755.36" y1="1259" x2="1755.36" y2="1289.3"/><line x1="1982.5" y1="1259" x2="1982.5" y2="1289.3"/><line x1="392.5" y1="1185.9" x2="422.5" y2="1185.9"/><line x1="392.5" y1="978.87" x2="422.5" y2="978.87"/><line x1="392.5" y1="771.84" x2="422.5" y2="771.84"/><line x1="392.5" y1="564.81" x2="422.5" y2="564.81"/><line x1="392.5" y1="357.78" x2="422.5" y2="357.78"/><line x1="392.5" y1="150.75" x2="422.5" y2="150.75"/></g>
<g font-family="Liberation Serif, Times New Roman, serif" fill="#000"><text x="137.7" y="178.1" font-size="77" textLength="213" lengthAdjust="spacingAndGlyphs">1.0×10</text><text x="346" y="147.3" font-size="51">6</text><text x="137.7" y="386.5" font-size="77" textLength="213" lengthAdjust="spacingAndGlyphs">8.0×10</text><text x="346" y="354" font-size="51">5</text><text x="137.7" y="592.6" font-size="77" textLength="213" lengthAdjust="spacingAndGlyphs">6.0×10</text><text x="346" y="560" font-size="51">5</text><text x="137.7" y="799.4" font-size="77" textLength="213" lengthAdjust="spacingAndGlyphs">4.0×10</text><text x="346" y="767" font-size="51">5</text><text x="137.7" y="1007.6" font-size="77" textLength="213" lengthAdjust="spacingAndGlyphs">2.0×10</text><text x="346" y="975" font-size="51">5</text><text x="283.1" y="1208.6" font-size="77">0.0</text><text x="386.0" y="1376.4" font-size="77">0</text><text x="597.1" y="1376.4" font-size="77">90</text><text x="809.9" y="1376.4" font-size="77">180</text><text x="1033.6" y="1376.4" font-size="77">270</text><text x="1261.1" y="1376.4" font-size="77">360</text><text x="1488.9" y="1376.4" font-size="77">450</text><text x="1716.0" y="1376.4" font-size="77">540</text><text x="1942.9" y="1376.4" font-size="77">630</text><text transform="translate(987.6,1506.8) scale(0.991,1)" font-size="78">Torque (N·m)</text><text transform="translate(81.7,665.5) rotate(-90) scale(0.992,1)" x="0" y="0" text-anchor="middle" font-size="77">Fatigue life (times)</text></g>
<g><rect x="1539.4" y="14.3" width="494.1" height="933.8" fill="#fff" stroke="#000" stroke-width="2"/><line x1="1550" y1="60.8" x2="1703" y2="60.8" stroke="#515151" stroke-width="6.5" stroke-linecap="round"/><rect x="1615.65" y="50.05" width="21.5" height="21.5" fill="#515151"/><text transform="translate(1729.6,89.2) scale(0.972,1)" font-size="77" font-family="Liberation Serif, Times New Roman, serif">Group 1</text><line x1="1550" y1="144.76" x2="1703" y2="144.76" stroke="#FF4040" stroke-width="6.5" stroke-linecap="round"/><circle cx="1626.4" cy="144.76" r="12.8" fill="#FF4040"/><text transform="translate(1729.6,173.16) scale(0.972,1)" font-size="77" font-family="Liberation Serif, Times New Roman, serif">Group 2</text><line x1="1550" y1="228.72" x2="1703" y2="228.72" stroke="#0070E6" stroke-width="6.5" stroke-linecap="round"/><polygon points="1626.4,211.79 1640.4,237.19 1612.4,237.19" fill="#0070E6"/><text transform="translate(1729.6,257.12) scale(0.972,1)" font-size="77" font-family="Liberation Serif, Times New Roman, serif">Group 3</text><line x1="1550" y1="312.68" x2="1703" y2="312.68" stroke="#00AE6A" stroke-width="6.5" stroke-linecap="round"/><polygon points="1626.4,330.01 1640.9,304.01 1611.9,304.01" fill="#00AE6A"/><text transform="translate(1729.6,341.08) scale(0.972,1)" font-size="77" font-family="Liberation Serif, Times New Roman, serif">Group 4</text><line x1="1550" y1="396.64" x2="1703" y2="396.64" stroke="#C27AE0" stroke-width="6.5" stroke-linecap="round"/><polygon points="1626.4,380.64 1641.9,396.64 1626.4,412.64 1610.9,396.64" fill="#C27AE0"/><text transform="translate(1729.6,425.04) scale(0.972,1)" font-size="77" font-family="Liberation Serif, Times New Roman, serif">Group 5</text><line x1="1550" y1="480.6" x2="1703" y2="480.6" stroke="#DA9A00" stroke-width="6.5" stroke-linecap="round"/><polygon points="1608.07,480.6 1635.57,466.1 1635.57,495.1" fill="#DA9A00"/><text transform="translate(1729.6,509) scale(0.972,1)" font-size="77" font-family="Liberation Serif, Times New Roman, serif">Group 6</text><line x1="1550" y1="564.56" x2="1703" y2="564.56" stroke="#00CDCD" stroke-width="6.5" stroke-linecap="round"/><polygon points="1644.73,564.56 1617.23,549.81 1617.23,579.31" fill="#00CDCD"/><text transform="translate(1729.6,592.96) scale(0.972,1)" font-size="77" font-family="Liberation Serif, Times New Roman, serif">Group 7</text><line x1="1550" y1="648.52" x2="1703" y2="648.52" stroke="#8A4C4C" stroke-width="6.5" stroke-linecap="round"/><polygon points="1626.4,634.52 1639.1,641.52 1639.1,655.52 1626.4,662.52 1613.7,655.52 1613.7,641.52" fill="#8A4C4C"/><text transform="translate(1729.6,676.92) scale(0.972,1)" font-size="77" font-family="Liberation Serif, Times New Roman, serif">Group 8</text><line x1="1550" y1="732.48" x2="1703" y2="732.48" stroke="#8F8F00" stroke-width="6.5" stroke-linecap="round"/><polygon points="1626.4,718.48 1629.86,727.72 1639.71,728.15 1631.99,734.3 1634.63,743.81 1626.4,738.36 1618.17,743.81 1620.81,734.3 1613.09,728.15 1622.94,727.72" fill="#8F8F00"/><text transform="translate(1729.6,760.88) scale(0.972,1)" font-size="77" font-family="Liberation Serif, Times New Roman, serif">Group 9</text><line x1="1550" y1="816.44" x2="1703" y2="816.44" stroke="#FF6500" stroke-width="6.5" stroke-linecap="round"/><polygon points="1626.4,802.04 1640.1,811.99 1634.86,828.09 1617.94,828.09 1612.7,811.99" fill="#FF6500"/><text transform="translate(1732.0,844.84) scale(0.994,1)" font-size="77" font-family="Liberation Serif, Times New Roman, serif">Group 10</text><line x1="1550" y1="900.4" x2="1703" y2="900.4" stroke="#4499D1" stroke-width="6.5" stroke-linecap="round"/><circle cx="1626.4" cy="900.4" r="12.6" fill="#4499D1"/><circle cx="1621.6" cy="896.4" r="7" fill="url(#hl)"/><text transform="translate(1732.0,928.8) scale(0.9855,1)" font-size="77" font-family="Liberation Serif, Times New Roman, serif">Group 11</text></g>
</svg>
</body></html>
